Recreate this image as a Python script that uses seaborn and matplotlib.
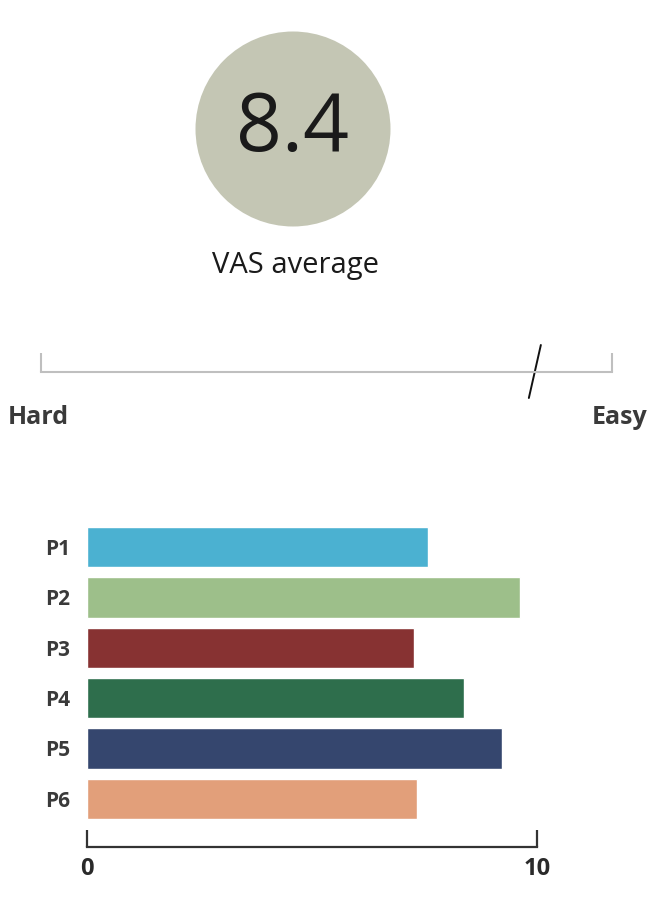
"""
VAS 平均值 + 各参与者评分条形图
"""

import numpy as np
import matplotlib
matplotlib.use("Agg")
import matplotlib.pyplot as plt
from matplotlib.patches import Circle
import seaborn as sns

# 数据
participants = ["P1", "P2", "P3", "P4", "P5", "P6"]
scores = [7.57, 9.63, 7.26, 8.37, 9.22, 7.34]
bar_colors = ["#4BB1D1", "#9DBF8A", "#873232", "#2E6E4C", "#35466E", "#E29F7A"]
vas_average = 8.4
vas_mark = 8.65          # 手画的标记在量表上的位置
scale_ends = ["Hard", "Easy"]
x_ticks = [0, 10]

W, H = 662, 900
DPI = 100
BOLD_FONT = ["Open Sans", "DejaVu Sans"]

sns.set_style("white")
plt.rcParams["font.family"] = ["Open Sans", "DejaVu Sans"]

fig = plt.figure(figsize=(W / DPI, H / DPI), dpi=DPI)
fig.patch.set_facecolor("white")


def px_box(left, top, right, bottom):
    """像素坐标 -> figure 坐标"""
    return [left / W, 1 - bottom / H, (right - left) / W, (bottom - top) / H]


# 顶部：圆形 + 文本（像素坐标轴）
ax0 = fig.add_axes([0, 0, 1, 1])
ax0.set_xlim(0, W)
ax0.set_ylim(H, 0)
ax0.axis("off")
ax0.add_patch(Circle((293, 129), 97.5, facecolor="#C4C6B4", edgecolor="none"))
ax0.text(293, 130, f"{vas_average:.1f}", ha="center", va="center",
         fontsize=58, color="#1a1a1a")
ax0.text(295, 265, "VAS average", ha="center", va="center",
         fontsize=21, color="#1a1a1a")

# 量表线
ax1 = fig.add_axes(px_box(40.5, 335, 612, 405))
ax1.set_xlim(0, 10)
ax1.set_ylim(-33, 37)
ax1.patch.set_alpha(0)
for s in ["top", "left", "right"]:
    ax1.spines[s].set_visible(False)
ax1.spines["bottom"].set_position(("data", 0))
ax1.spines["bottom"].set_color("#BFBFBF")
ax1.spines["bottom"].set_linewidth(1.5)
ax1.set_xticks(x_ticks)
ax1.set_yticks([])
ax1.tick_params(axis="x", bottom=True, direction="in", length=14, width=1.5,
                color="#BFBFBF", labelbottom=False)
ax1.plot([vas_mark + 0.105, vas_mark - 0.105], [27, -26],
         color="#111111", lw=1.4, solid_capstyle="round")

ax0.text(8, 417, scale_ends[0], ha="left", va="center", fontsize=18,
         fontweight="bold", color="#3a3a3a", family=BOLD_FONT)
ax0.text(647, 417, scale_ends[1], ha="right", va="center", fontsize=18,
         fontweight="bold", color="#3a3a3a", family=BOLD_FONT)

# 条形图
ax2 = fig.add_axes(px_box(87, 522, 537, 847))
sns.barplot(x=scores, y=participants, hue=participants, palette=bar_colors,
            legend=False, orient="h", width=0.8, saturation=1, ax=ax2)
ax2.set_xlim(0, 10)
ax2.set_ylim(5.96, -0.5)
for s in ["top", "left", "right"]:
    ax2.spines[s].set_visible(False)
ax2.spines["bottom"].set_color("#333333")
ax2.spines["bottom"].set_linewidth(1.6)
ax2.set_xticks(x_ticks)
ax2.set_xticklabels([str(t) for t in x_ticks], fontweight="bold",
                    family=BOLD_FONT)
ax2.set_yticks(range(len(participants)))
ax2.set_yticklabels(participants, fontweight="bold", family=BOLD_FONT)
ax2.tick_params(axis="x", bottom=True, direction="in", length=12, width=1.6,
                color="#333333", pad=7, labelsize=17, labelcolor="#2a2a2a")
ax2.tick_params(axis="y", left=False, length=0, pad=12, labelsize=15,
                labelcolor="#3a3a3a")
ax2.set_xlabel("")
ax2.set_ylabel("")

fig.savefig("out.png", dpi=DPI, facecolor="white")
